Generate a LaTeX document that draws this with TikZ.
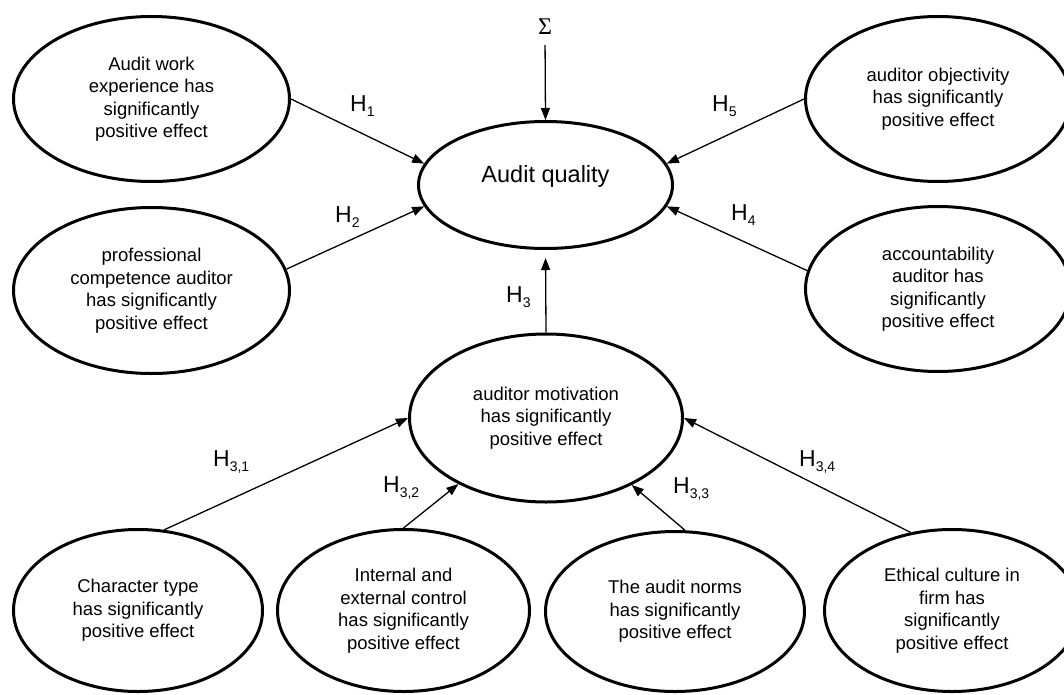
\documentclass[tikz,border=0pt]{standalone}
\usepackage{fontspec}
\setmainfont{Liberation Sans}
\newfontfamily\sigmafont{Liberation Serif}
\usetikzlibrary{arrows.meta,shapes.geometric}

% hypothesis label: H with a lowered index
\newcommand{\hyplabel}[1]{H\raisebox{-5pt}{\fontsize{14}{14}\selectfont #1}}

\begin{document}
\begin{tikzpicture}[
  x=1pt, y=-1pt,
  font=\fontsize{18.5}{22.5}\selectfont,
  oval/.style={draw, ellipse, line width=3pt, align=center, inner sep=0pt},
  link/.style={-{Triangle[length=12pt,width=9pt]}, line width=1.3pt},
  hlabel/.style={font=\fontsize{23}{23}\selectfont, inner sep=0pt, anchor=base west}
]
  \useasboundingbox (0,0) rectangle (1064,695);

  % centre
  \node[oval, minimum width=254pt, minimum height=127pt, text depth=22pt,
        font=\fontsize{23.5}{26}\selectfont] (quality) at (545.5,185) {Audit quality};
  \node[oval, minimum width=273pt, minimum height=168pt] (motivation) at (546,418)
    {auditor motivation\\has significantly\\positive effect};
  \node[font=\sigmafont\fontsize{24}{24}\selectfont, inner sep=0pt] (sigma) at (545,27) {Σ};

  % left and right
  \node[oval, minimum width=276pt, minimum height=165pt] (experience) at (151.5,99)
    {Audit work\\experience has\\significantly\\positive effect};
  \node[oval, minimum width=276pt, minimum height=166pt] (competence) at (151.5,290.5)
    {professional\\competence auditor\\has significantly\\positive effect};
  \node[oval, minimum width=265pt, minimum height=165pt] (objectivity) at (938,99)
    {auditor objectivity\\has significantly\\positive effect};
  \node[oval, minimum width=265pt, minimum height=165pt] (accountability) at (938,289)
    {accountability\\auditor has\\significantly\\positive effect};

  % bottom row
  \node[oval, minimum width=249pt, minimum height=162pt] (character) at (138,610.5)
    {Character type\\has significantly\\positive effect};
  \node[oval, minimum width=252pt, minimum height=162pt] (control) at (403.5,610.5)
    {Internal and\\external control\\has significantly\\positive effect};
  \node[oval, minimum width=259pt, minimum height=160pt] (norms) at (675,611.5)
    {The audit norms\\has significantly\\positive effect};
  \node[oval, minimum width=255pt, minimum height=162pt] (culture) at (952,610.5)
    {Ethical culture in\\firm has\\significantly\\positive effect};

  % labels
  \node[hlabel] (h1) at (350,111.5) {\hyplabel{1}};
  \node[hlabel] (h2) at (335,222) {\hyplabel{2}};
  \node[hlabel] (h5) at (712,112) {\hyplabel{5}};
  \node[hlabel] (h4) at (731,220) {\hyplabel{4}};
  \node[hlabel] (h3) at (506,302) {\hyplabel{3}};
  \node[hlabel] (h31) at (213,466) {\hyplabel{3,1}};
  \node[hlabel] (h32) at (383,492) {\hyplabel{3,2}};
  \node[hlabel] (h33) at (673,493) {\hyplabel{3,3}};
  \node[hlabel] (h34) at (799,466) {\hyplabel{3,4}};

  % arrows
  \draw[link, shorten <=10pt] (sigma.south) -- (quality.north);
  \draw[link] (experience.east) -- (quality.170);
  \draw[link] (competence.9) -- (quality.190);
  \draw[link] (objectivity.west) -- (quality.10);
  \draw[link] (accountability.172) -- (quality.350);
  \draw[link, shorten >=8pt] (motivation.north) -- (quality.south);
  \draw[link] (character.72) -- (motivation.west);
  \draw[link] (control.north) -- (motivation.217);
  \draw[link] (norms.83) -- (motivation.322);
  \draw[link] (culture.118) -- (motivation.east);
\end{tikzpicture}
\end{document}
